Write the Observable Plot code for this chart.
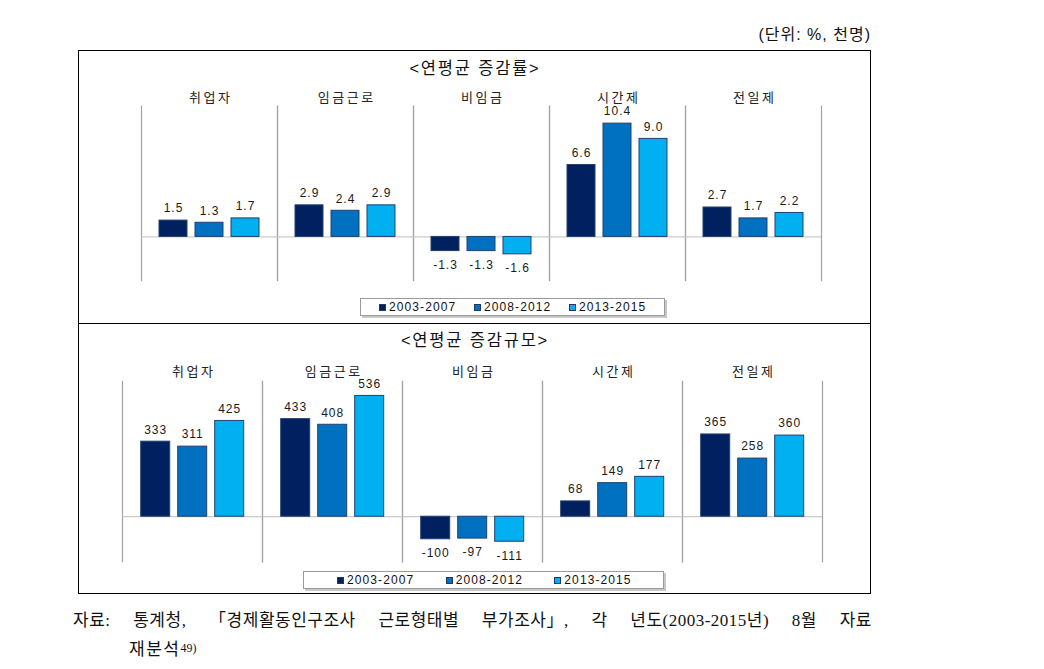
<!DOCTYPE html>
<html>
<head>
<meta charset="utf-8">
<script src="https://cdn.jsdelivr.net/npm/d3@7"></script>
<script src="https://cdn.jsdelivr.net/npm/@observablehq/plot@0.6"></script>
<style>
  html, body { margin: 0; padding: 0; background: #fff; }
  body { width: 1044px; height: 669px; position: relative; overflow: hidden;
         font-family: "Liberation Sans", "Noto Sans CJK KR", sans-serif; color: #222; }
  .abs { position: absolute; }
  #unit { right: 173px; top: 25px; font-size: 16px; line-height: 20px; letter-spacing: 1px; color: #111; white-space: nowrap; }
  #box { left: 78px; top: 50px; width: 792.7px; height: 544.3px; border: 1.5px solid #000; box-sizing: border-box; }
  #divider { left: 78px; top: 322.5px; width: 792.7px; height: 0; border-top: 1.5px solid #000; }
  .title { width: 300px; text-align: center; font-size: 16.5px; line-height: 20px; letter-spacing: 1.8px; color: #111; }
  .legend { border: 1px solid #9a9a9a; box-shadow: 2px 2px 0 #c8c8c8; box-sizing: border-box; display: flex; align-items: center; background: #fff; }
  .legend .item { display: flex; align-items: center; font-size: 12px; letter-spacing: 1.1px; color: #111; }
  .legend .sw { width: 7px; height: 7px; box-sizing: border-box; border: 1px solid #1f3864; margin-right: 3px; }
  .cap { font-family: "Liberation Serif", "Noto Sans CJK KR", serif; font-size: 17px; line-height: 22px; color: #111; white-space: nowrap; letter-spacing: 0.5px; }
  #cap1 { left: 73px; top: 610px; }
  #cap2 { left: 129px; top: 637px; letter-spacing: 1.5px; }
  #cap2 sup { font-size: 12px; vertical-align: 3px; letter-spacing: 0; }
</style>
</head>
<body>
<div id="unit" class="abs">(단위: %, 천명)</div>
<div id="box" class="abs"></div>
<div id="divider" class="abs"></div>
<div id="title1" class="abs title" style="left:325px; top:58px;">&lt;연평균 증감률&gt;</div>
<div id="title2" class="abs title" style="left:325px; top:330px;">&lt;연평균 증감규모&gt;</div>
<div id="plot1" class="abs" style="left:100px; top:80px;"></div>
<div id="plot2" class="abs" style="left:100px; top:350px;"></div>
<div id="legend1" class="abs legend" style="left:360px; top:298px; width:305px; height:18px; padding-left:18px;"></div>
<div id="legend2" class="abs legend" style="left:303px; top:571px; width:361px; height:18px; padding-left:33px;"></div>
<div id="cap1" class="abs cap">자료: 통계청, 「경제활동인구조사 근로형태별 부가조사」, 각 년도(2003-2015년) 8월 자료</div>
<div id="cap2" class="abs cap">재분석<sup>49)</sup></div>
<script>
const categories = ["취업자", "임금근로", "비임금", "시간제", "전일제"];
const periods = ["2003-2007", "2008-2012", "2013-2015"];
const colors = ["#002060", "#0070C0", "#00B0F0"];

// 연평균 증감률 (%)
const rate2003 = [1.5, 2.9, -1.3, 6.6, 2.7];
const rate2008 = [1.3, 2.4, -1.3, 10.4, 1.7];
const rate2013 = [1.7, 2.9, -1.6, 9.0, 2.2];

// 연평균 증감규모 (천명)
const size2003 = [333, 433, -100, 68, 365];
const size2008 = [311, 408, -97, 149, 258];
const size2013 = [425, 536, -111, 177, 360];

function rowsOf(series) {
  const rows = [];
  categories.forEach((c, i) => {
    series.forEach((s, j) => rows.push({cat: c, period: periods[j], value: s[i]}));
  });
  return rows;
}

function panel(rows, yDomain, fmt, dims) {
  const svg = Plot.plot({
    width: dims.width, height: dims.height,
    marginLeft: dims.marginLeft, marginRight: dims.marginRight,
    marginTop: dims.marginTop, marginBottom: dims.marginBottom,
    fx: {domain: categories, padding: 0, axis: null},
    x: {domain: periods, paddingInner: 0.22, paddingOuter: 0.49, axis: null},
    y: {domain: yDomain, axis: null},
    color: {domain: periods, range: colors},
    style: {background: "transparent", overflow: "visible", fontFamily: '"Liberation Sans", "Noto Sans CJK KR", sans-serif', color: "#222"},
    marks: [
      Plot.frame({anchor: "left", stroke: "#a3a3a3", strokeWidth: 1.2}),
      Plot.frame({anchor: "right", stroke: "#a3a3a3", strokeWidth: 1.2}),
      Plot.ruleY([0], {stroke: "#bdbdbd", strokeWidth: 1}),
      Plot.barY(rows, {fx: "cat", x: "period", y: "value", fill: "period", stroke: "#23406c", strokeWidth: 1}),
      Plot.text(rows.filter(d => d.value >= 0), {fx: "cat", x: "period", y: "value", text: d => fmt(d.value), dy: -12, fontSize: 12, fill: "#1a1a1a"}),
      Plot.text(rows.filter(d => d.value < 0), {fx: "cat", x: "period", y: "value", text: d => fmt(d.value), dy: 14, fontSize: 12, fill: "#1a1a1a"}),
      Plot.text(categories, {fx: d => d, text: d => d, frameAnchor: "top", dx: 1.2, dy: dims.catDy, fontSize: 13, fill: "#222"})
    ]
  });
  // letter spacing as in the original: wider for category labels, slight for values
  d3.select(svg).selectAll("text").each(function() {
    this.style.letterSpacing = categories.includes(this.textContent) ? "2.5px" : "1px";
  });
  return svg;
}

const p1 = panel(rowsOf([rate2003, rate2008, rate2013]), [-4, 12], v => d3.format(".1f")(v).replace("−", "-"),
  {width: 760, height: 210, marginLeft: 40, marginRight: 37.3, marginTop: 25.7, marginBottom: 10, catDy: -13});
document.getElementById("plot1").appendChild(p1);

const p2 = panel(rowsOf([size2003, size2008, size2013]), [-200, 600], v => d3.format("d")(v).replace("−", "-"),
  {width: 760, height: 216.3, marginLeft: 21.3, marginRight: 38.3, marginTop: 31, marginBottom: 5, catDy: -14.3});
document.getElementById("plot2").appendChild(p2);

function legend(id, itemWidth) {
  const el = document.getElementById(id);
  periods.forEach((p, i) => {
    const item = document.createElement("div");
    item.className = "item";
    item.style.width = itemWidth + "px";
    const sw = document.createElement("span");
    sw.className = "sw";
    sw.style.background = colors[i];
    item.appendChild(sw);
    item.appendChild(document.createTextNode(p));
    el.appendChild(item);
  });
}
legend("legend1", 98.5);
legend("legend2", 111);

// spread the first caption line across the box width (as in the justified original)
const cap1 = document.getElementById("cap1");
const targetWidth = 799;
const natural = cap1.getBoundingClientRect().width;
const spaces = (cap1.textContent.match(/ /g) || []).length;
if (spaces > 0 && natural < targetWidth) cap1.style.wordSpacing = ((targetWidth - natural) / spaces) + "px";
</script>
</body>
</html>
